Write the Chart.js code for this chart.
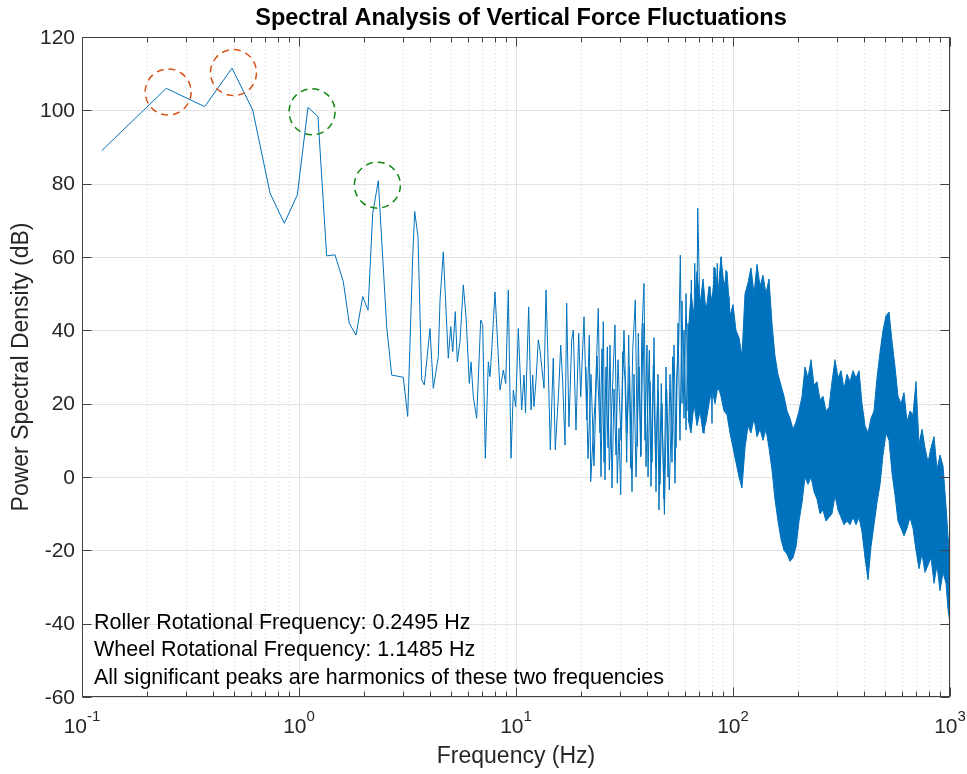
<!DOCTYPE html>
<html lang="en">
<head>
<meta charset="UTF-8">
<title>Spectral Analysis of Vertical Force Fluctuations</title>
<script src="https://cdn.jsdelivr.net/npm/chart.js"></script>
<style>
    body { margin: 0; background: #ffffff; }
    #wrap { width: 967px; height: 774px; }
</style>
</head>
<body>
<div id="wrap"><canvas id="grafico-psd" width="967" height="774"></canvas></div>

<script>
    // low frequency part of the trace (Hz / dB)
    const lowFreq = [0.1233, 0.2446, 0.3675, 0.4913, 0.6117, 0.7355, 0.8556, 0.982, 1.100, 1.223,
        1.341, 1.465, 1.600, 1.705, 1.831, 1.966, 2.080, 2.186, 2.320, 2.536,
        2.674, 3.024, 3.169, 3.342, 3.413, 3.535, 3.677, 3.780, 4.015, 4.158, 4.385];
    const lowPsd = [89.0, 106.0, 101.0, 111.5, 100.1, 77.4, 69.2, 76.9, 100.8, 98.3,
        60.3, 60.6, 53.3, 41.9, 38.7, 49.2, 45.5, 71.9, 80.8, 41.0,
        27.8, 27.2, 16.5, 60.1, 72.4, 65.5, 26.5, 25.1, 40.5, 24.2, 32.8];

    // middle part, peaks and troughs
    const midFreq = [4.466, 4.624, 4.876, 5.002, 5.109, 5.252, 5.364, 5.520, 5.716, 5.884,
        6.094, 6.204, 6.357, 6.590, 6.876, 7.023, 7.221, 7.455, 7.590, 7.728,
        8.003, 8.439, 8.740, 8.965, 9.216, 9.484, 9.719, 9.969, 10.25, 10.62,
        10.89, 11.06, 11.44, 11.73, 11.94, 12.10, 12.37, 12.67, 12.90, 13.46,
        13.75, 14.09, 14.39, 14.85, 15.17, 15.73, 16.07, 16.41, 16.82, 17.12,
        17.54, 18.06, 18.37, 18.90, 19.45, 19.87, 20.58, 21.18, 21.77, 22.09,
        22.57, 23.20, 23.95, 24.65, 25.26, 25.71, 26.35, 26.92, 28.59, 29.30,
        29.83, 30.37, 31.02, 31.79, 32.37, 33.06, 33.78, 34.50, 35.47, 36.22,
        36.61, 37.55, 37.95, 38.89, 39.72, 41.15, 41.90, 42.93, 44.04, 44.98,
        45.60, 46.73, 48.30, 49.49, 50.88, 52.19, 52.74, 54.05, 55.04, 56.22,
        57.18, 58.21, 59.46, 60.74, 62.05, 63.38, 64.26, 65.64, 66.62, 68.05,
        68.78, 69.96, 71.00, 72.53, 73.54, 75.09, 76.14, 78.34, 80.02, 81.74,
        82.87, 84.65, 85.92, 88.34, 90.24, 92.83, 94.84, 96.14];
    const midPsd = [48.3, 61.4, 32.4, 41.0, 34.2, 45.1, 31.4, 36.9, 52.4, 43.7,
        25.5, 31.4, 21.9, 16.0, 42.8, 41.5, 5.1, 31.4, 27.4, 34.6,
        50.5, 23.7, 29.2, 25.5, 51.0, 5.1, 23.7, 19.2, 40.5, 18.3,
        27.8, 17.5, 46.4, 18.3, 27.8, 19.2, 26.5, 37.4, 34.6, 24.2,
        51.0, 29.2, 7.4, 32.4, 7.4, 23.7, 36.0, 26.0, 8.7, 47.4,
        13.7, 37.4, 40.1, 12.8, 39.2, 21.9, 43.7, 15.5, 38.7, -1.3,
        9.2, 21.9, 46.0, 0.1, 42.4, -0.8, 35.5, 1.9, 41.5, -1.7,
        13.3, -4.9, 34.2, 26.9, 4.0, 38.7, 2.4, 34.6, 48.3, 8.3,
        39.2, 5.5, 38.3, 52.8, 2.8, 34.6, -2.6, 30.5, 2.8, 23.7,
        -9.0, 25.5, -10.2, 23.7, -3.5, 20.1, 32.8, -1.7, 27.4, 36.5,
        60.5, 20.1, 40.1, 12.8, 41.9, 28.3, 53.7, 23.7, 58.3, 35.5,
        73.3, 52.8, 19.2, 48.3, 11.9, 46.9, 20.1, 51.9, 14.6, 57.3,
        24.6, 58.3, 23.7, 60.1, 25.5, 56.4, 19.2, 49.2];

    // second set of lines visible between 20 and 65 Hz
    const mid2Freq = [21.02, 21.47, 22.16, 22.88, 23.62, 24.38, 24.91, 25.44, 25.98, 26.55,
        27.12, 27.70, 28.29, 28.90, 29.51, 30.47, 31.45, 32.47, 33.35, 34.24,
        34.98, 35.73, 36.89, 37.68, 38.48, 39.31, 40.15, 40.58, 41.45, 42.34,
        43.25, 44.18, 45.12, 46.08, 47.07, 48.09, 49.12, 50.17, 51.25, 52.35,
        53.47, 54.61, 55.79, 56.98, 58.21, 59.46, 60.74, 62.05, 63.38];
    const mid2Psd = [30, 5, 28, 3, 33, 12, 35, 4, 30, 8,
        36, -3, 24, 6, 32, 10, 40, 12, 30, -4,
        28, 0, 30, 6, 42, 10, 36, 0, 26, 4,
        38, -4, 28, -2, 20, -6, 30, 0, 28, 4,
        36, 8, 42, 10, 48, 16, 50, 18, 44];

    // dense part: upper and lower edge of the band
    const bandFreq = [62.05, 64.04, 66.12, 68.26, 70.47, 72.75, 75.09, 77.52, 80.02, 82.61,
        85.28, 88.04, 90.88, 93.82, 96.87, 100.0, 103.2, 106.6, 110.0, 113.6,
        117.3, 121.0, 125.0, 129.0, 133.2, 137.5, 141.9, 146.5, 151.2, 156.1,
        161.2, 166.4, 171.8, 177.4, 183.1, 189.0, 195.2, 201.5, 208.0, 214.7,
        221.6, 228.8, 236.2, 243.8, 251.7, 259.9, 268.3, 277.0, 285.9, 295.2,
        304.7, 314.6, 324.8, 335.3, 346.1, 357.3, 368.9, 380.8, 393.1, 405.8,
        418.9, 432.5, 446.5, 460.9, 475.9, 491.3, 507.2, 523.6, 540.5, 558.0,
        576.0, 594.6, 613.9, 633.7, 654.2, 675.3, 697.2, 719.7, 743.1, 767.1,
        791.9, 817.6, 844.0, 871.4, 899.6, 928.7, 958.8, 979.0, 1000];
    const bandHi = [38, 50, 44, 56, 47, 54, 45, 52, 48, 57,
        50, 60, 52, 56, 44, 47, 40, 38, 33, 50,
        53, 57, 50, 58, 52, 55, 50, 54, 42, 33,
        28, 25, 22, 18, 16, 13, 15, 18, 22, 30,
        27, 32, 25, 26, 21, 22, 18, 19, 26, 32,
        27, 29, 24, 28, 26, 29, 27, 29, 20, 14,
        12, 16, 18, 27, 34, 40, 44, 45, 37, 30,
        22, 20, 23, 15, 18, 17, 26, 9, 13, 8,
        4, 8, 11, 2, 6, 3, -8, -16, -22];
    const bandLo = [16, 12, 20, 14, 18, 12, 15, 20, 24, 20,
        25, 22, 18, 17, 12, 8, 4, 0, -3, 8,
        14, 12, 16, 11, 13, 10, 13, 8, 2, -6,
        -12, -17, -20, -21, -23, -22, -19, -12, -7, 0,
        -2, 0, -4, -6, -10, -9, -12, -11, -10, -5,
        -9, -11, -13, -12, -13, -11, -13, -11, -15, -22,
        -28, -19, -13, -7, -2, 6, 12, 10, 1, -5,
        -12, -14, -16, -14, -11, -14, -20, -25, -21, -26,
        -24, -22, -29, -24, -31, -26, -29, -36, -40];

    // circled peaks
    const rollerPeakFreq = [0.2495, 0.499];
    const rollerPeakDb = [105, 110.3];
    const wheelPeakFreq = [1.1485, 2.297];
    const wheelPeakDb = [99.6, 79.6];

    // axes
    const yTicks = [-60, -40, -20, 0, 20, 40, 60, 80, 100, 120];
    const xTickExps = [-1, 0, 1, 2, 3];

    const notas = [
        'Roller Rotational Frequency: 0.2495 Hz',
        'Wheel Rotational Frequency: 1.1485 Hz',
        'All significant peaks are harmonics of these two frequencies'
    ];

    const fonte = '"Liberation Sans", Arial, Helvetica, sans-serif';
    const azul = '#0072BD';

    const traco = lowFreq.map((f, i) => ({ x: f, y: lowPsd[i] }))
        .concat(midFreq.map((f, i) => ({ x: f, y: midPsd[i] })));
    const traco2 = mid2Freq.map((f, i) => ({ x: f, y: mid2Psd[i] }));
    const bordaSup = bandFreq.map((f, i) => ({ x: f, y: bandHi[i] }));
    const bordaInf = bandFreq.map((f, i) => ({ x: f, y: bandLo[i] }));

    function linha(ctx, x1, y1, x2, y2) {
        ctx.beginPath();
        ctx.moveTo(x1, y1);
        ctx.lineTo(x2, y2);
        ctx.stroke();
    }

    const eixos = {
        id: 'eixos',
        beforeDatasetsDraw(chart) {
            const { ctx, chartArea: a, scales: { x, y } } = chart;
            ctx.save();
            ctx.lineWidth = 1;

            // minor grid (dotted)
            ctx.strokeStyle = '#cfcfcf';
            ctx.setLineDash([1, 3]);
            xTickExps.slice(0, -1).forEach(e => {
                for (let m = 2; m <= 9; m++) {
                    const px = Math.round(x.getPixelForValue(m * Math.pow(10, e))) + 0.5;
                    linha(ctx, px, a.top, px, a.bottom);
                }
            });

            // major grid
            ctx.setLineDash([]);
            ctx.strokeStyle = '#e3e3e3';
            xTickExps.forEach(e => {
                const px = Math.round(x.getPixelForValue(Math.pow(10, e))) + 0.5;
                linha(ctx, px, a.top, px, a.bottom);
            });
            yTicks.forEach(v => {
                const py = Math.round(y.getPixelForValue(v)) + 0.5;
                linha(ctx, a.left, py, a.right, py);
            });
            ctx.restore();
        },
        afterDatasetsDraw(chart) {
            const { ctx, chartArea: a, scales: { x, y } } = chart;
            ctx.save();

            // box and tick marks
            ctx.strokeStyle = '#404040';
            ctx.lineWidth = 1;
            const L = Math.round(a.left) + 0.5, R = Math.round(a.right) - 0.5;
            const T = Math.round(a.top) + 0.5, B = Math.round(a.bottom) - 0.5;
            ctx.strokeRect(L, T, R - L, B - T);
            yTicks.forEach(v => {
                const py = Math.round(y.getPixelForValue(v)) + 0.5;
                linha(ctx, L, py, L + 9, py);
                linha(ctx, R, py, R - 9, py);
            });
            xTickExps.forEach((e, k) => {
                const px = Math.round(x.getPixelForValue(Math.pow(10, e))) + 0.5;
                linha(ctx, px, B, px, B - 9);
                linha(ctx, px, T, px, T + 9);
                if (k < xTickExps.length - 1) {
                    for (let m = 2; m <= 9; m++) {
                        const q = Math.round(x.getPixelForValue(m * Math.pow(10, e))) + 0.5;
                        linha(ctx, q, B, q, B - 5);
                        linha(ctx, q, T, q, T + 5);
                    }
                }
            });

            // circles round the peaks
            ctx.lineWidth = 1.5;
            ctx.setLineDash([7, 5]);
            const circulo = (f, d, cor) => {
                ctx.strokeStyle = cor;
                ctx.beginPath();
                ctx.arc(x.getPixelForValue(f), y.getPixelForValue(d), 23, 0, Math.PI * 2);
                ctx.stroke();
            };
            rollerPeakFreq.forEach((f, i) => circulo(f, rollerPeakDb[i], '#D95319'));
            wheelPeakFreq.forEach((f, i) => circulo(f, wheelPeakDb[i], '#118811'));
            ctx.setLineDash([]);

            // y tick labels
            ctx.fillStyle = '#262626';
            ctx.font = '21px ' + fonte;
            ctx.textAlign = 'right';
            ctx.textBaseline = 'middle';
            yTicks.forEach(v => {
                ctx.fillText(String(v), a.left - 7, y.getPixelForValue(v) + 1);
            });

            // x tick labels 10^n
            ctx.textBaseline = 'alphabetic';
            ctx.textAlign = 'left';
            xTickExps.forEach(e => {
                const px = x.getPixelForValue(Math.pow(10, e));
                ctx.font = '21px ' + fonte;
                const w1 = ctx.measureText('10').width;
                ctx.font = '15px ' + fonte;
                const w2 = ctx.measureText(String(e)).width;
                const x0 = px - (w1 + w2) / 2;
                ctx.font = '21px ' + fonte;
                ctx.fillText('10', x0, 733);
                ctx.font = '15px ' + fonte;
                ctx.fillText(String(e), x0 + w1, 721);
            });

            // axis titles
            ctx.textAlign = 'center';
            ctx.textBaseline = 'middle';
            ctx.font = '23px ' + fonte;
            ctx.fillText('Frequency (Hz)', (a.left + a.right) / 2, 757);
            ctx.save();
            ctx.translate(22, (a.top + a.bottom) / 2);
            ctx.rotate(-Math.PI / 2);
            ctx.fillText('Power Spectral Density (dB)', 0, 0);
            ctx.restore();

            // title
            ctx.fillStyle = '#000000';
            ctx.font = 'bold 23.5px ' + fonte;
            ctx.fillText('Spectral Analysis of Vertical Force Fluctuations', 521, 19);

            // notes
            ctx.textAlign = 'left';
            ctx.font = '21.5px ' + fonte;
            notas.forEach((t, i) => ctx.fillText(t, 94, 623 + i * 27.5));

            ctx.restore();
        }
    };

    const estiloLinha = { borderColor: azul, borderWidth: 1, pointRadius: 0, tension: 0 };

    new Chart(document.getElementById('grafico-psd'), {
        type: 'line',
        data: {
            datasets: [
                { label: 'PSD', data: traco, fill: false, ...estiloLinha },
                { label: 'PSD b', data: traco2, fill: false, ...estiloLinha },
                { label: 'band top', data: bordaSup, backgroundColor: azul, fill: '+1', ...estiloLinha },
                { label: 'band bottom', data: bordaInf, fill: false, ...estiloLinha }
            ]
        },
        options: {
            responsive: false,
            devicePixelRatio: 1,
            animation: false,
            events: [],
            layout: { padding: { left: 82, right: 17, top: 37, bottom: 77 } },
            plugins: {
                legend: { display: false },
                tooltip: { enabled: false },
                title: { display: false }
            },
            scales: {
                x: { type: 'logarithmic', min: 0.1, max: 1000, display: false },
                y: { type: 'linear', min: -60, max: 120, display: false }
            }
        },
        plugins: [eixos]
    });
</script>
</body>
</html>
